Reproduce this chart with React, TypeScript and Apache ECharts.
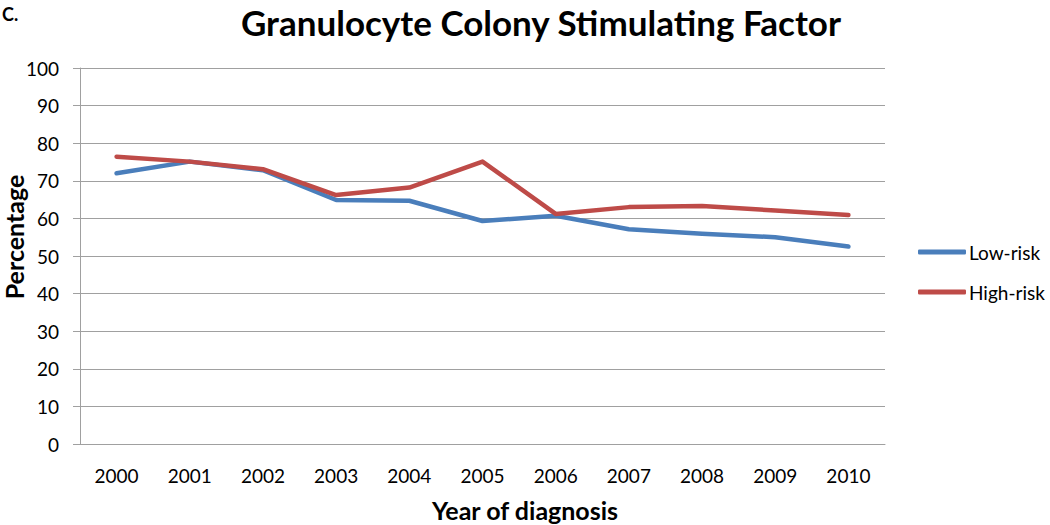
import React, { useEffect, useRef } from "react";
import * as echarts from "echarts";

const years = ["2000", "2001", "2002", "2003", "2004", "2005", "2006", "2007", "2008", "2009", "2010"];
const lowRisk = [72.0, 75.1, 72.8, 64.9, 64.7, 59.3, 60.7, 57.1, 55.9, 55.0, 52.5];
const highRisk = [76.4, 75.1, 73.1, 66.2, 68.2, 75.1, 61.2, 63.0, 63.3, 62.1, 60.9];
const seriesNames = ["Low-risk", "High-risk"];
const titleText = "Granulocyte Colony Stimulating Factor";
const panelLabel = "C.";
const xAxisName = "Year of diagnosis";
const yAxisName = "Percentage";

const FONT = "Lato, 'Open Sans', sans-serif";

export default function App() {
  const ref = useRef<HTMLDivElement>(null);
  useEffect(() => {
    if (!ref.current) return;
    const chart = echarts.init(ref.current, null, { renderer: "svg" });
    chart.setOption({
      animation: false,
      backgroundColor: "#ffffff",
      textStyle: { fontFamily: FONT },
      graphic: [
        {
          type: "text",
          x: 541,
          y: 4,
          style: {
            text: titleText,
            font: `bold 35px ${FONT}`,
            fill: "#000",
            align: "center",
            verticalAlign: "top",
          },
        },
        {
          type: "text",
          x: 2,
          y: 14,
          style: {
            text: panelLabel,
            font: `bold 18px ${FONT}`,
            fill: "#000",
            align: "left",
            verticalAlign: "middle",
          },
        },
        {
          type: "text",
          x: 525,
          y: 510,
          style: {
            text: xAxisName,
            font: `bold 25px ${FONT}`,
            fill: "#000",
            align: "center",
            verticalAlign: "middle",
          },
        },
        {
          type: "text",
          x: 14,
          y: 237,
          rotation: Math.PI / 2,
          style: {
            text: yAxisName,
            font: `bold 25px ${FONT}`,
            fill: "#000",
            align: "center",
            verticalAlign: "middle",
          },
        },
      ],
      legend: {
        orient: "vertical",
        left: 918,
        top: 242,
        padding: 0,
        itemWidth: 48,
        itemHeight: 5,
        itemGap: 20,
        icon: "roundRect",
        textStyle: { fontFamily: FONT, fontSize: 19, lineHeight: 20, color: "#000", padding: [0, 0, 0, -2] },
        data: seriesNames,
      },
      grid: { left: 80, right: 165, top: 68, bottom: 81, outerBoundsMode: "none", containLabel: false },
      xAxis: {
        type: "category",
        data: years,
        boundaryGap: true,
        axisLine: { lineStyle: { color: "#a0a0a0", width: 1 } },
        axisTick: { alignWithLabel: false, length: 7, lineStyle: { color: "#a0a0a0" } },
        axisLabel: { fontFamily: FONT, fontSize: 19, color: "#000", margin: 22 },
      },
      yAxis: {
        type: "value",
        min: 0,
        max: 100,
        interval: 10,
        axisLine: { show: true, lineStyle: { color: "#a0a0a0", width: 1 } },
        axisTick: { show: true, length: 7, lineStyle: { color: "#a0a0a0" } },
        axisLabel: { fontFamily: FONT, fontSize: 19, color: "#000", margin: 21 },
        splitLine: { lineStyle: { color: "#a0a0a0", width: 1 } },
      },
      series: [
        {
          name: seriesNames[0],
          type: "line",
          data: lowRisk,
          symbol: "none",
          color: "#4a7ebb",
          lineStyle: { width: 4.5, color: "#4a7ebb", cap: "round", join: "round" },
        },
        {
          name: seriesNames[1],
          type: "line",
          data: highRisk,
          symbol: "none",
          color: "#be4b48",
          lineStyle: { width: 4.5, color: "#be4b48", cap: "round", join: "round" },
        },
      ],
    });
    return () => chart.dispose();
  }, []);
  return <div ref={ref} style={{ width: 1050, height: 525, position: "absolute", left: 0, top: 0 }} />;
}
